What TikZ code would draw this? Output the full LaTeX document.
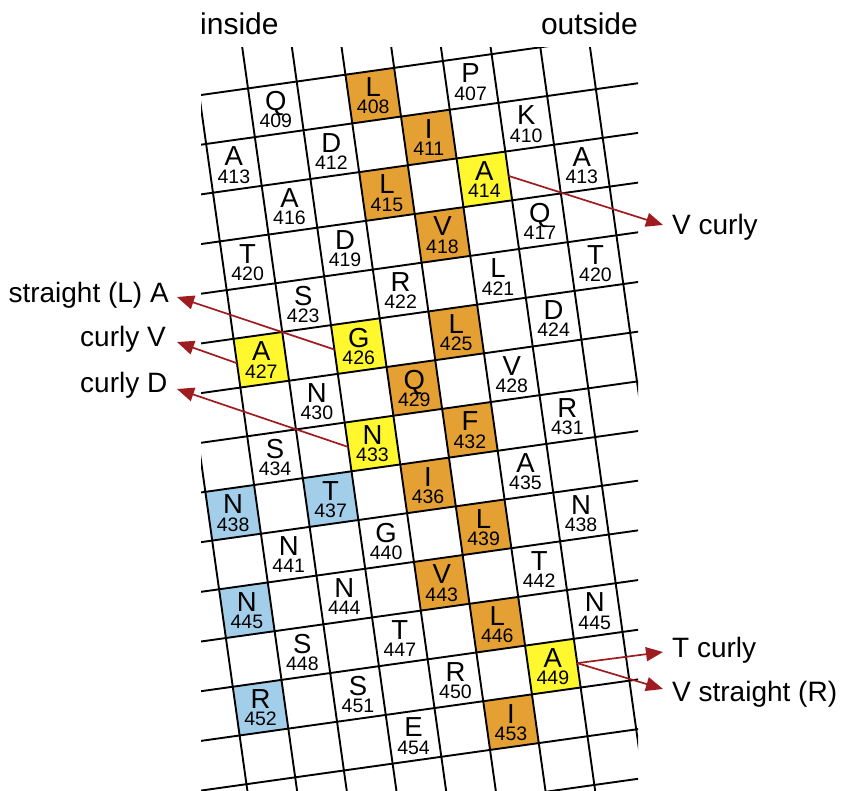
\documentclass[tikz,border=0pt]{standalone}
\usepackage{fontspec}
\setmainfont{Liberation Sans}
\usetikzlibrary{arrows.meta}
\definecolor{orangecell}{RGB}{229,160,52}
\definecolor{yellowcell}{RGB}{255,248,46}
\definecolor{bluecell}{RGB}{163,206,234}
\definecolor{arrowred}{RGB}{158,27,32}
\newcommand\letfont{\fontsize{27.5}{30}\selectfont}
\newcommand\numfont{\fontsize{19.5}{22}\selectfont}
\newcommand\labfont{\fontsize{28}{32}\selectfont}
\newcommand\topfont{\fontsize{30}{34}\selectfont}
\tikzset{
  gridline/.style={line width=1.9pt, black},
  cellnode/.style={anchor=north, inner sep=0pt, align=center, font=\numfont, yshift=18.2pt},
  sidelabel/.style={inner sep=0pt, font=\labfont},
  toplabel/.style={inner sep=0pt, font=\topfont},
  redarrow/.style={draw=arrowred, line width=1.7pt, -{Triangle[length=17pt,width=14pt]}},
  netscope/.style={shift={(248pt,-88.4pt)}, x={(48.72pt,6.85pt)}, y={(6.85pt,-48.72pt)}}
}
\begin{document}
\begin{tikzpicture}[x=1pt,y=-1pt]
\useasboundingbox (0,0) rectangle (841,791);
% grid and coloured cells
\begin{scope}
  \clip (201,48) rectangle (638,791);
  \begin{scope}[netscope]
    \foreach \c/\r in {2/0,3/1,2/2,3/3,3/5,2/6,3/7,2/8,3/9,2/10,3/11,3/13}
      \fill[orangecell] (\c,\r) -- (\c+1,\r) -- (\c+1,\r+1) -- (\c,\r+1) -- cycle;
    \foreach \c/\r in {4/2,1/5,-1/5,1/7,4/12}
      \fill[yellowcell] (\c,\r) -- (\c+1,\r) -- (\c+1,\r+1) -- (\c,\r+1) -- cycle;
    \foreach \c/\r in {0/8,-2/8,-2/10,-2/12}
      \fill[bluecell] (\c,\r) -- (\c+1,\r) -- (\c+1,\r+1) -- (\c,\r+1) -- cycle;
    \foreach \k in {-4,...,9}
      \draw[gridline] (\k,-2) -- (\k,16);
    \foreach \m in {-2,...,16}
      \draw[gridline] (-4,\m) -- (9,\m);
  \end{scope}
\end{scope}
% cell texts
\begin{scope}[netscope]
  \foreach \L/\n/\c/\r in {
    Q/409/0/0, L/408/2/0, P/407/4/0,
    A/413/-1/1, D/412/1/1, I/411/3/1, K/410/5/1,
    A/416/0/2, L/415/2/2, A/414/4/2, A/413/6/2,
    T/420/-1/3, D/419/1/3, V/418/3/3, Q/417/5/3,
    S/423/0/4, R/422/2/4, L/421/4/4, T/420/6/4,
    A/427/-1/5, G/426/1/5, L/425/3/5, D/424/5/5,
    N/430/0/6, Q/429/2/6, V/428/4/6,
    S/434/-1/7, N/433/1/7, F/432/3/7, R/431/5/7,
    N/438/-2/8, T/437/0/8, I/436/2/8, A/435/4/8,
    N/441/-1/9, G/440/1/9, L/439/3/9, N/438/5/9,
    N/445/-2/10, N/444/0/10, V/443/2/10, T/442/4/10,
    S/448/-1/11, T/447/1/11, L/446/3/11, N/445/5/11,
    R/452/-2/12, S/451/0/12, R/450/2/12, A/449/4/12,
    E/454/1/13, I/453/3/13}
  {
    \coordinate (cell\n-\c-\r) at (\c+0.5,\r+0.5);
    \node[cellnode] (txt\n-\c-\r) at (cell\n-\c-\r) {{\letfont \L}\\[-4.7pt]\n};
  }
  \coordinate (A414e) at (5,2.5);
  \coordinate (G426w) at (1,5.5);
  \coordinate (A427w) at (-1,5.5);
  \coordinate (N433w) at (1,7.5);
  \coordinate (A449e) at (5,12.5);
\end{scope}
% top labels
\node[toplabel, anchor=base west] (inside) at (200,34.3) {inside};
\node[toplabel, anchor=base east] (outside) at (638,34.3) {outside};
% side labels
\node[sidelabel, anchor=base east] (labStrA) at (169,302.3) {straight (L) A};
\node[sidelabel, anchor=base east] (labCurV) at (166,346.7) {curly V};
\node[sidelabel, anchor=base east] (labCurD) at (167.5,392.7) {curly D};
\node[sidelabel, anchor=base west] (labVcur) at (672,235) {V curly};
\node[sidelabel, anchor=base west] (labTcur) at (672,657.7) {T curly};
\node[sidelabel, anchor=base west] (labVstr) at (672,701) {V straight (R)};
% arrow ends
\coordinate (tipVcur) at (663,225);
\coordinate (tipStrA) at (177,297);
\coordinate (tipCurV) at (177,342);
\coordinate (tipCurD) at (177,389);
\coordinate (tipTcur) at (663,652);
\coordinate (tipVstr) at (663,689);
\draw[redarrow] (A414e) -- (tipVcur);
\draw[redarrow] (G426w) -- (tipStrA);
\draw[redarrow] (A427w) -- (tipCurV);
\draw[redarrow] (N433w) -- (tipCurD);
\draw[redarrow] (A449e) -- (tipTcur);
\draw[redarrow] (A449e) -- (tipVstr);
\end{tikzpicture}
\end{document}
